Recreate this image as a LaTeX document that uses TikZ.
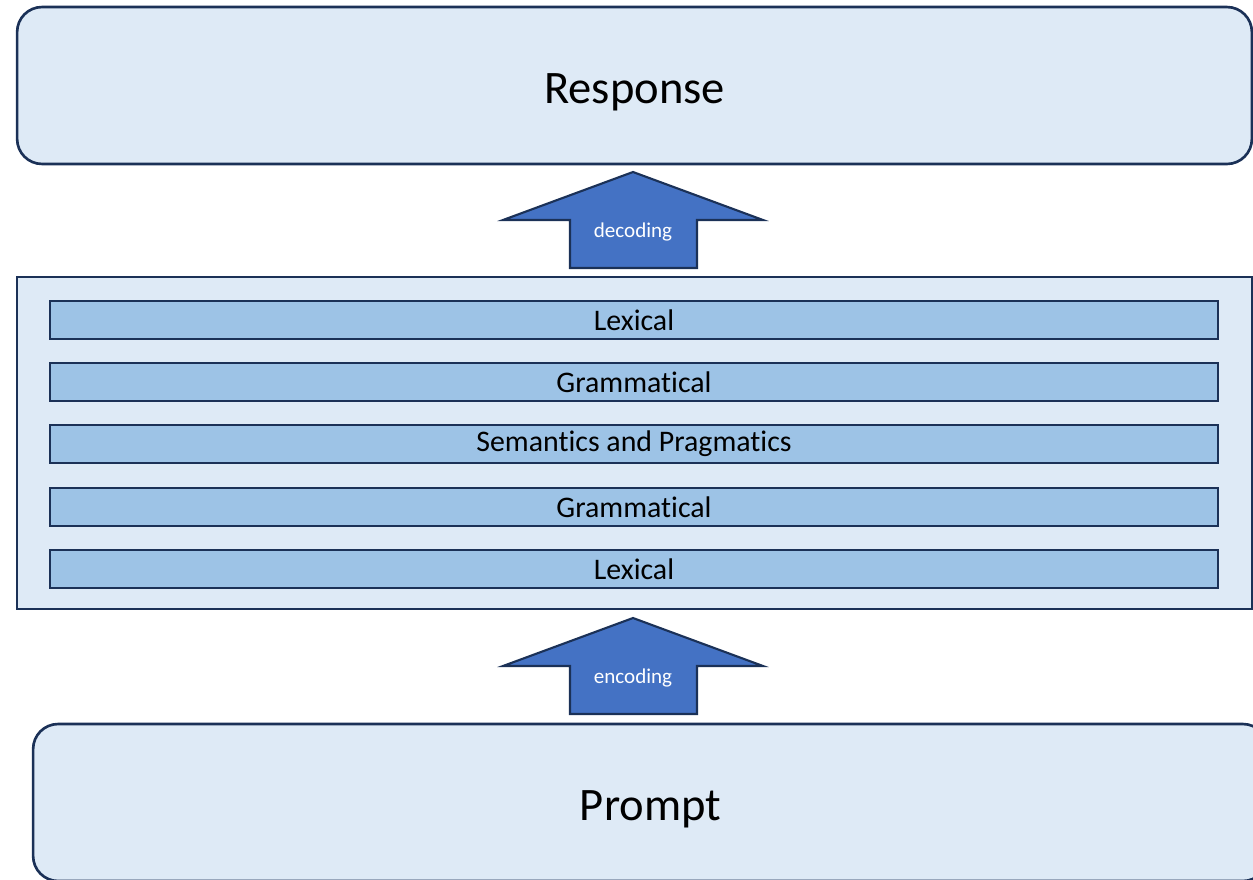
\documentclass[tikz,border=0pt]{standalone}
\usepackage{fontspec}
\setmainfont{Carlito}[Ligatures={NoCommon,NoDiscretionary,NoContextual}]
\usetikzlibrary{positioning}

\definecolor{boxfill}{HTML}{DEEAF6}
\definecolor{boxline}{HTML}{1B3157}
\definecolor{barfill}{HTML}{9DC3E6}
\definecolor{arrowfill}{HTML}{4472C4}

% break the t-i ligature of Carlito
\newcommand{\tI}{t\kern0pt i}

\tikzset{
  bigbox/.style={draw=boxline, fill=boxfill, line width=1.5pt, rounded corners=0.5cm,
    minimum width=24.7cm, minimum height=3.14cm, inner sep=0pt},
  bigtext/.style={font=\fontsize{26.5}{30}\selectfont},
  layer/.style={draw=boxline, fill=barfill, line width=1.5pt,
    minimum width=23.36cm, minimum height=0.76cm, inner sep=0pt, font=\fontsize{17}{20}\selectfont},
  blockarrow/.style={draw=boxline, fill=arrowfill, line width=1.2pt, line join=miter}
}

\begin{document}
\begin{tikzpicture}[x=0.02cm, y=-0.02cm]
    \clip (0,0) rectangle (1253,879);
    \useasboundingbox (0,0) rectangle (1253,879);

    \node[bigbox] (R) at (634.5, 85.5) {} ;
    \node[bigbox, rounded corners=0pt, minimum height=6.64cm] (M) at (634.5, 443) {} ;
    \node[bigbox] (P) at (650.5, 802.5) {} ;
    \node[bigtext, below=-0.36cm of R.center] (Rtext) {Response} ;
    \node[bigtext, below=-0.36cm of P.center] (Ptext) {Prompt} ;

    \node[layer] (L1) at (634, 320) {Lexical} ;
    \node[layer] (G1) at (634, 382) {Gramma\tI cal} ;
    \node[layer] (S) at (634, 444) {Seman\tI cs and Pragma\tI cs} ;
    \node[layer] (G2) at (634, 507) {Gramma\tI cal} ;
    \node[layer] (L2) at (634, 569) {Lexical} ;

    \foreach \t/\lab in {172/decoding, 618/encoding} {
      \draw[blockarrow] (570,\t+96) -- (570,\t+48) -- (503,\t+48) -- (633,\t)
        -- (763,\t+48) -- (697,\t+48) -- (697,\t+96) -- cycle;
      \node[white, font=\fontsize{12}{14}\selectfont] (\lab) at (633,\t+60) {\lab} ;
    }
  \end{tikzpicture}
\end{document}
